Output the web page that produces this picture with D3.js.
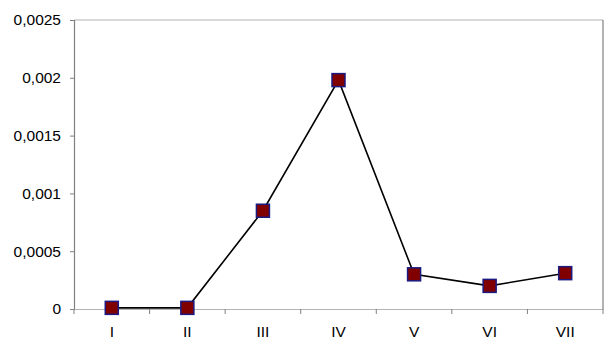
<!DOCTYPE html>
<html><head><meta charset="utf-8">
<script src="https://cdn.jsdelivr.net/npm/d3@7"></script>
<style>body{margin:0;background:#fff}svg{display:block}</style>
</head><body>
<script>
const categories = ["I","II","III","IV","V","VI","VII"];
const values = [0.00001, 0.00001, 0.00085, 0.00198, 0.0003, 0.0002, 0.00031];
const yTicks = [0, 0.0005, 0.001, 0.0015, 0.002, 0.0025];
const yTickLabels = ["0","0,0005","0,001","0,0015","0,002","0,0025"];

const W = 610, H = 352;
const m = {left: 74, right: 7, top: 20, bottom: 43};
const svg = d3.select("body").append("svg").attr("width", W).attr("height", H);
const x = d3.scaleBand().domain(categories).range([m.left, W - m.right]);
const y = d3.scaleLinear().domain([0, 0.0025]).range([H - m.bottom, m.top]);
const font = "Arial, 'Liberation Sans', sans-serif";

// plot border top/right
svg.append("line").attr("x1", m.left).attr("x2", W - m.right).attr("y1", y(0.0025)).attr("y2", y(0.0025))
  .attr("stroke", "#b4b4b4").attr("stroke-width", 1.2);
svg.append("line").attr("x1", W - m.right).attr("x2", W - m.right).attr("y1", y(0.0025)).attr("y2", y(0))
  .attr("stroke", "#808080").attr("stroke-width", 1.2);

// y axis
const ya = svg.append("g").attr("transform", `translate(${m.left},0)`)
  .call(d3.axisLeft(y).tickValues(yTicks).tickFormat((d, i) => yTickLabels[i]).tickSize(4).tickPadding(9));
ya.attr("font-size", null).attr("font-family", null);
ya.select(".domain").attr("stroke", "#808080").attr("stroke-width", 1.2);
ya.selectAll(".tick line").attr("stroke", "#808080");
ya.selectAll("text").style("font-family", font).style("font-size", "15.5px").attr("fill", "#000");

// x axis
const xa = svg.append("g").attr("transform", `translate(0,${y(0)})`)
  .call(d3.axisBottom(x).tickSize(0).tickPadding(17));
xa.attr("font-size", null).attr("font-family", null);
xa.select(".domain").attr("stroke", "#b4b4b4").attr("stroke-width", 1.2);
xa.selectAll("text").style("font-family", font).style("font-size", "15.5px").attr("fill", "#000");
// tick marks at band boundaries
const bounds = categories.map(c => x(c)).concat([x(categories[categories.length-1]) + x.bandwidth()]);
xa.selectAll(".bt").data(bounds).enter().append("line")
  .attr("x1", d => d).attr("x2", d => d).attr("y1", 0).attr("y2", 5)
  .attr("stroke", "#808080");

// line
const cx = c => x(c) + x.bandwidth() / 2;
svg.append("path").datum(values)
  .attr("d", d3.line().x((d, i) => cx(categories[i])).y(d => y(d)))
  .attr("fill", "none").attr("stroke", "#000").attr("stroke-width", 1.6);

// markers
const s = 13;
svg.selectAll(".mk").data(values).enter().append("rect")
  .attr("x", (d, i) => cx(categories[i]) - s / 2).attr("y", d => y(d) - s / 2)
  .attr("width", s).attr("height", s)
  .attr("fill", "#800000").attr("stroke", "#1a1a80").attr("stroke-width", 1.5);
</script>
</body></html>
